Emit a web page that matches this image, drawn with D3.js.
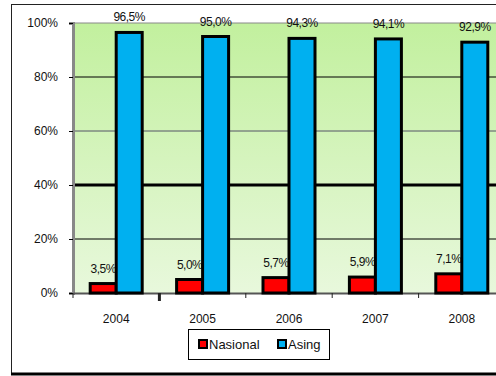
<!DOCTYPE html>
<html lang="id">
<head>
<meta charset="UTF-8">
<script src="https://d3js.org/d3.v7.min.js"></script>
<style>
  body { margin: 0; background: #fff; }
  text { font-family: Arial, "Liberation Sans", sans-serif; fill: #111; }
</style>
</head>
<body>
<div id="chart"></div>
<script>
// data
var years = ["2004", "2005", "2006", "2007", "2008"];
var nasional = [3.5, 5.0, 5.7, 5.9, 7.1];
var asing = [96.5, 95.0, 94.3, 94.1, 92.9];
var seriesNames = ["Nasional", "Asing"];
var seriesColors = ["#ff0000", "#00b0f0"];
var yTicks = [0, 20, 40, 60, 80, 100];

var width = 496, height = 376;
var plotLeft = 73, plotTop = 23, plotBottom = 293, plotRight = 505;

var svg = d3.select("#chart").append("svg")
    .attr("width", width)
    .attr("height", height);

// outer frame
svg.append("rect")
    .attr("x", 11.5).attr("y", 4.5)
    .attr("width", 500).attr("height", 369)
    .attr("fill", "#fff").attr("stroke", "#222").attr("stroke-width", 1);
svg.append("line")
    .attr("x1", 11).attr("x2", 496).attr("y1", 374).attr("y2", 374)
    .attr("stroke", "#000").attr("stroke-width", 3);

var grad = svg.append("defs").append("linearGradient")
    .attr("id", "bg").attr("x1", 0).attr("x2", 0).attr("y1", 0).attr("y2", 1);
grad.append("stop").attr("offset", "0%").attr("stop-color", "#c2f09e");
grad.append("stop").attr("offset", "100%").attr("stop-color", "#e8f8dc");

var x = d3.scaleBand().domain(years).range([plotLeft, plotRight]);
var y = d3.scaleLinear().domain([0, 100]).range([plotBottom, plotTop]);

svg.append("rect")
    .attr("x", plotLeft).attr("y", plotTop)
    .attr("width", plotRight - plotLeft).attr("height", plotBottom - plotTop)
    .attr("fill", "url(#bg)");

// gridlines
svg.selectAll(".grid")
    .data(yTicks.filter(function (d) { return d > 0; }))
    .enter().append("line")
    .attr("x1", plotLeft).attr("x2", plotRight)
    .attr("y1", function (d) { return y(d); })
    .attr("y2", function (d) { return y(d); })
    .attr("stroke", function (d) { return d == 60 ? "#556" : (d == 100 ? "#888" : "#000"); })
    .attr("stroke-width", function (d) { return d == 40 ? 3 : 1; });

// y axis
var yAxis = svg.append("g")
    .attr("transform", "translate(" + plotLeft + ",0)")
    .call(d3.axisLeft(y).tickValues(yTicks).tickSize(4).tickPadding(11)
        .tickFormat(function (d) { return d + "%"; }));
yAxis.select(".domain").attr("stroke", "#888").attr("stroke-width", 3);
yAxis.selectAll(".tick line").attr("stroke", "#000");
yAxis.selectAll("text").style("font-size", "12px");

// x axis
var xAxis = svg.append("g")
    .attr("transform", "translate(0," + plotBottom + ")")
    .call(d3.axisBottom(x).tickSize(0).tickPadding(21));
xAxis.select(".domain").attr("stroke", "#555").attr("stroke-width", 2);
xAxis.selectAll("text").style("font-size", "12px");
xAxis.selectAll(".sep")
    .data(years)
    .enter().append("line")
    .attr("x1", function (d) { return x(d); })
    .attr("x2", function (d) { return x(d); })
    .attr("y1", 0).attr("y2", function (d, i) { return i == 1 ? 8 : 5; })
    .attr("stroke", "#222")
    .attr("stroke-width", function (d, i) { return i == 1 ? 3 : 1; });

// bars
var bw = 26;
var series = [nasional, asing];
series.forEach(function (vals, s) {
    var g = svg.append("g");
    g.selectAll("rect")
        .data(vals)
        .enter().append("rect")
        .attr("x", function (d, i) { return x(years[i]) + x.bandwidth() / 2 - bw + s * bw; })
        .attr("y", function (d) { return y(d); })
        .attr("width", bw)
        .attr("height", function (d) { return plotBottom - y(d); })
        .attr("fill", seriesColors[s])
        .attr("stroke", "#000")
        .attr("stroke-width", 3);
    g.selectAll("text")
        .data(vals)
        .enter().append("text")
        .attr("x", function (d, i) { return x(years[i]) + x.bandwidth() / 2 - bw / 2 + s * bw; })
        .attr("y", function (d) { return y(d) - 11; })
        .attr("text-anchor", "middle")
        .style("font-size", "12px")
        .style("letter-spacing", "-0.5px")
        .text(function (d) { return d.toFixed(1).replace(".", ",") + "%"; });
});

// legend
var lg = svg.append("g").attr("transform", "translate(188,329)");
lg.append("rect").attr("x", 0.5).attr("y", 0.5).attr("width", 141).attr("height", 30)
    .attr("fill", "#fff").attr("stroke", "#000");
var items = lg.selectAll(".item").data(seriesNames).enter().append("g")
    .attr("transform", function (d, i) { return "translate(" + (11 + i * 79) + ",0)"; });
items.append("rect").attr("x", 0).attr("y", 11).attr("width", 8).attr("height", 8)
    .attr("fill", function (d, i) { return seriesColors[i]; })
    .attr("stroke", "#000").attr("stroke-width", 2);
items.append("text").attr("x", 10).attr("y", 20)
    .style("font-size", "13px")
    .text(function (d) { return d; });
</script>
</body>
</html>
